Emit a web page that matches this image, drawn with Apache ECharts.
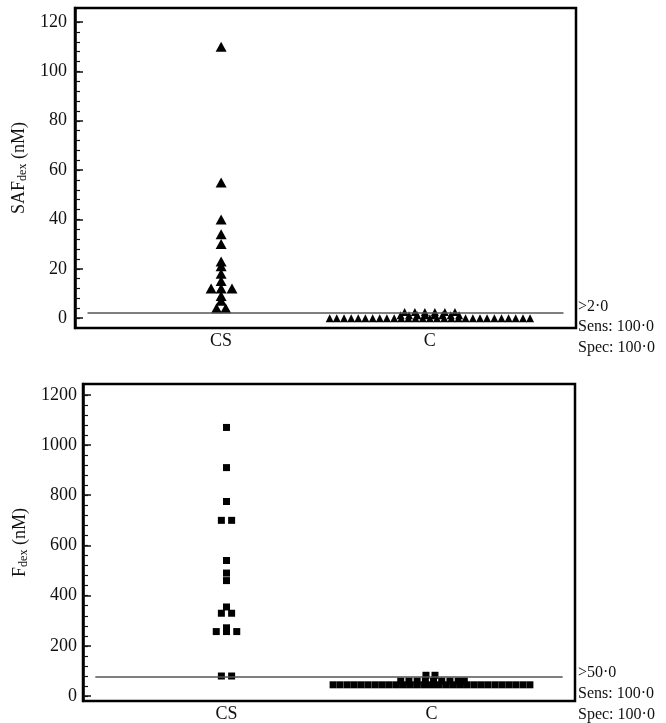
<!DOCTYPE html>
<html>
<head>
<meta charset="utf-8">
<script src="https://cdn.jsdelivr.net/npm/echarts@6/dist/echarts.min.js"></script>
<style>
html, body { margin: 0; padding: 0; background: #fff; }
#chart { width: 666px; height: 723px; }
</style>
</head>
<body>
<div id="chart"></div>
<script>
// groups on the x axis (CS at 0, C at 1)
var groups = ['CS', 'C'];
var safTicks = [0, 20, 40, 60, 80, 100, 120];
var fdexTicks = [0, 200, 400, 600, 800, 1000, 1200];

// cut-off lines as drawn
var safCut = 2.3;
var fdexCut = 78;

// SAFdex, CS group
var safCS = [110, 55, 40, 34, 30, 23, 21, 18, 15, 12, 12, 12, 9, 7, 4, 4];
var safCSOffset = [0, 0, 0, 0, 0, 0, 0, 0, 0, -0.048, 0, 0.052, 0, 0, -0.022, 0.022];

// SAFdex, C group: rows of values with horizontal spread
var safCRowValues = [0, 1.2, 2.5];
var safCRowOffsets = [
  [-0.48, -0.446, -0.411, -0.377, -0.343, -0.309, -0.274, -0.24, -0.206, -0.171, -0.137, -0.103, -0.069, -0.034, 0,
    0.034, 0.069, 0.103, 0.137, 0.171, 0.206, 0.24, 0.274, 0.309, 0.343, 0.377, 0.411, 0.446, 0.48],
  [-0.14, -0.1, -0.06, -0.02, 0.02, 0.06, 0.1, 0.14],
  [-0.121, -0.072, -0.024, 0.024, 0.072, 0.12]
];

// Fdex, CS group
var fdexCS = [1070, 910, 775, 700, 700, 540, 490, 460, 355, 330, 330, 272, 257, 257, 257, 80, 80];
var fdexCSOffset = [0, 0, 0, -0.025, 0.025, 0, 0, 0, 0, -0.025, 0.025, 0, -0.05, 0, 0.05, -0.025, 0.025];

// Fdex, C group
var fdexCRowValues = [45, 60, 83];
var fdexCRowOffsets = [
  [-0.48, -0.446, -0.411, -0.377, -0.343, -0.309, -0.274, -0.24, -0.206, -0.171, -0.137, -0.103, -0.069, -0.034, 0,
    0.034, 0.069, 0.103, 0.137, 0.171, 0.206, 0.24, 0.274, 0.309, 0.343, 0.377, 0.411, 0.446, 0.48],
  [-0.15, -0.11, -0.07, -0.03, 0.01, 0.05, 0.09, 0.13, 0.16],
  [-0.027, 0.017]
];

var serif = 'Liberation Serif';

function pairs(x, values, offsets) {
  return values.map(function (v, i) { return [x + offsets[i], v]; });
}
function rows(x, rowValues, rowOffsets) {
  var out = [];
  rowValues.forEach(function (v, r) {
    rowOffsets[r].forEach(function (o) { out.push([x + o, v]); });
  });
  return out;
}
function minorTicks(ticks) {
  var step = (ticks[1] - ticks[0]) / 5, out = [];
  for (var t = ticks[0]; t <= ticks[ticks.length - 1] + 1e-9; t += step) out.push(t);
  return out;
}

function xAxis(gridIndex) {
  return {
    type: 'value', gridIndex: gridIndex, min: -0.7, max: 1.7,
    axisLine: { show: false }, axisTick: { show: false }, splitLine: { show: false },
    axisLabel: {
      customValues: [0, 1], margin: 4,
      fontFamily: serif, fontSize: 18, color: '#111',
      formatter: function (v) { return groups[Math.round(v)]; }
    }
  };
}
function yAxes(gridIndex, min, max, ticks, name, labelMargin, nameGap) {
  return [{
    type: 'value', gridIndex: gridIndex, min: min, max: max, position: 'left',
    axisLine: { show: true, onZero: false, lineStyle: { color: '#000', width: 2.5 } },
    axisTick: { show: true, inside: true, length: 8, customValues: ticks, lineStyle: { color: '#111', width: 1.5 } },
    axisLabel: {
      customValues: ticks, margin: labelMargin, fontFamily: serif, fontSize: 18, color: '#111',
      formatter: function (v) { return String(v); }
    },
    splitLine: { show: false },
    name: name, nameLocation: 'middle', nameGap: nameGap,
    nameTextStyle: {
      rich: {
        a: { fontFamily: serif, fontSize: 18, color: '#111' },
        b: { fontFamily: serif, fontSize: 12, color: '#111', padding: [7, 0, 0, 0] }
      }
    }
  }, {
    type: 'value', gridIndex: gridIndex, min: min, max: max, position: 'left',
    axisLine: { show: false, onZero: false },
    axisTick: { show: true, inside: true, length: 5, customValues: minorTicks(ticks), lineStyle: { color: '#111', width: 1.2 } },
    axisLabel: { show: false },
    splitLine: { show: false }
  }];
}
function cutLine(value) {
  return {
    silent: true, symbol: 'none', label: { show: false },
    lineStyle: { color: '#555', width: 1.5, type: 'solid' },
    data: [[{ coord: [-0.64, value] }, { coord: [1.64, value] }]]
  };
}
var dot = { color: '#000', opacity: 1 };

var chart = echarts.init(document.getElementById('chart'));
chart.setOption({
  animation: false,
  backgroundColor: '#fff',
  grid: [
    { left: 75, right: 90, top: 8, height: 320, show: true, borderColor: '#000', borderWidth: 2.5 },
    { left: 83, right: 91, top: 384, height: 321, show: true, borderColor: '#000', borderWidth: 2.5 }
  ],
  xAxis: [xAxis(0), xAxis(1)],
  yAxis: yAxes(0, -4, 125.7, safTicks, '{a|SAF}{b|dex}{a| (nM)}', 8, 44)
    .concat(yAxes(1, -19.5, 1243, fdexTicks, '{a|F}{b|dex}{a| (nM)}', 6, 48)),
  series: [
    { type: 'scatter', xAxisIndex: 0, yAxisIndex: 0, data: [], z: 1, markLine: cutLine(safCut) },
    { type: 'scatter', xAxisIndex: 0, yAxisIndex: 0, symbol: 'triangle', symbolSize: [11, 10],
      itemStyle: dot, data: pairs(0, safCS, safCSOffset), z: 3 },
    { type: 'scatter', xAxisIndex: 0, yAxisIndex: 0, symbol: 'triangle', symbolSize: [8, 8],
      itemStyle: dot, data: rows(1, safCRowValues, safCRowOffsets), z: 3 },
    { type: 'scatter', xAxisIndex: 1, yAxisIndex: 2, data: [], z: 1, markLine: cutLine(fdexCut) },
    { type: 'scatter', xAxisIndex: 1, yAxisIndex: 2, symbol: 'rect', symbolSize: 7,
      itemStyle: dot, data: pairs(0, fdexCS, fdexCSOffset), z: 3 },
    { type: 'scatter', xAxisIndex: 1, yAxisIndex: 2, symbol: 'rect', symbolSize: 7,
      itemStyle: dot, data: rows(1, fdexCRowValues, fdexCRowOffsets), z: 3 }
  ],
  graphic: [
    { type: 'text', left: 578, top: 299, style: { text: '>2·0', font: '16px "Liberation Serif"', fill: '#111' } },
    { type: 'text', left: 578, top: 319, style: { text: 'Sens: 100·0', font: '16px "Liberation Serif"', fill: '#111' } },
    { type: 'text', left: 578, top: 340, style: { text: 'Spec: 100·0', font: '16px "Liberation Serif"', fill: '#111' } },
    { type: 'text', left: 578, top: 665, style: { text: '>50·0', font: '16px "Liberation Serif"', fill: '#111' } },
    { type: 'text', left: 578, top: 686, style: { text: 'Sens: 100·0', font: '16px "Liberation Serif"', fill: '#111' } },
    { type: 'text', left: 578, top: 707, style: { text: 'Spec: 100·0', font: '16px "Liberation Serif"', fill: '#111' } }
  ]
});
</script>
</body>
</html>
